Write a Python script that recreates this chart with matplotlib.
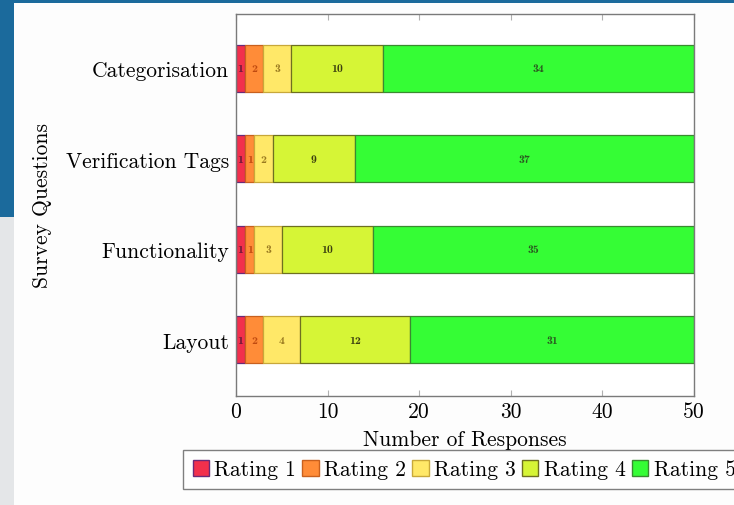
import matplotlib
matplotlib.use("Agg")
import matplotlib.pyplot as plt
from matplotlib.patches import Patch, Rectangle
import numpy as np

plt.rcParams['font.family'] = ['cmr10', 'DejaVu Serif']
plt.rcParams['axes.unicode_minus'] = False
plt.rcParams['mathtext.fontset'] = 'cm'

questions = ["Layout", "Functionality", "Verification Tags", "Categorisation"]
ratings = ["Rating 1", "Rating 2", "Rating 3", "Rating 4", "Rating 5"]
rating_1 = [1, 1, 1, 1]
rating_2 = [2, 1, 1, 2]
rating_3 = [4, 3, 2, 3]
rating_4 = [12, 10, 9, 10]
rating_5 = [31, 35, 37, 34]
x_ticks = [0, 10, 20, 30, 40, 50]

series = [rating_1, rating_2, rating_3, rating_4, rating_5]
fills = ["#f2304c", "#ff8c38", "#ffe868", "#d6f536", "#35fd35"]
edges = ["#6a2a78", "#c8601e", "#c8a83a", "#6e7020", "#3a8a30"]
label_cols = ["#6a1838", "#c04a10", "#9a7a20", "#3c4010", "#2a5a20"]

FS = 15.5

fig = plt.figure(figsize=(7.34, 5.06), dpi=100)
fig.patch.set_facecolor("#fdfdfd")

# page frame around the plot
fig.add_artist(Rectangle((0, 0), 14 / 734, 1, transform=fig.transFigure,
                         facecolor="#e4e6e8", edgecolor="none", zorder=0))
fig.add_artist(Rectangle((0, 1 - 218 / 506), 14 / 734, 218 / 506, transform=fig.transFigure,
                         facecolor="#1b6a9c", edgecolor="none", zorder=0))
fig.add_artist(Rectangle((0, 1 - 4 / 506), 1, 4 / 506, transform=fig.transFigure,
                         facecolor="#1b6a9c", edgecolor="none", zorder=0))

ax = fig.add_axes([236 / 734, 1 - 397 / 506, 458 / 734, 382 / 506])
ax.set_facecolor("white")

y = np.arange(len(questions))
left = np.zeros(len(questions))
for vals, fc, ec, lc in zip(series, fills, edges, label_cols):
    vals = np.array(vals, dtype=float)
    ax.barh(y, vals, left=left, height=0.52, color=fc, edgecolor=ec, linewidth=0.9, zorder=2)
    for yi, l, v in zip(y, left, vals):
        ax.text(l + v / 2, yi, f"{int(v)}", ha="center", va="center", fontsize=8.5,
                family=["cmb10", "DejaVu Serif"], color=lc, zorder=3)
    left += vals

ax.set_xlim(0, 50)
ax.set_ylim(-0.62, 3.6)
ax.set_xticks(x_ticks)
ax.set_xticklabels([str(t) for t in x_ticks], fontsize=FS)
ax.set_yticks(y)
ax.set_yticklabels(questions, fontsize=FS)
ax.tick_params(axis="x", direction="in", length=4, color="#b0b0b0", top=True, pad=4)
ax.tick_params(axis="y", length=0, pad=5)
for s in ax.spines.values():
    s.set_color("#7a7a7a")
    s.set_linewidth(1.0)

ax.set_xlabel("Number of Responses", fontsize=FS, labelpad=6)
ax.set_ylabel("Survey Questions", fontsize=FS, labelpad=10)

handles = [Patch(facecolor=fc, edgecolor=ec, linewidth=1.0) for fc, ec in zip(fills, edges)]
leg = fig.legend(handles, ratings, loc="upper left", bbox_to_anchor=(183 / 734, 1 - 451 / 506),
                 ncol=5, fontsize=FS, frameon=True, fancybox=False, handlelength=0.75,
                 handleheight=0.75, handletextpad=0.25, columnspacing=0.3, borderpad=0.45,
                 borderaxespad=0)
leg.get_frame().set_edgecolor("#606060")
leg.get_frame().set_linewidth(1.0)

fig.savefig("out.png", dpi=100, facecolor=fig.get_facecolor())
